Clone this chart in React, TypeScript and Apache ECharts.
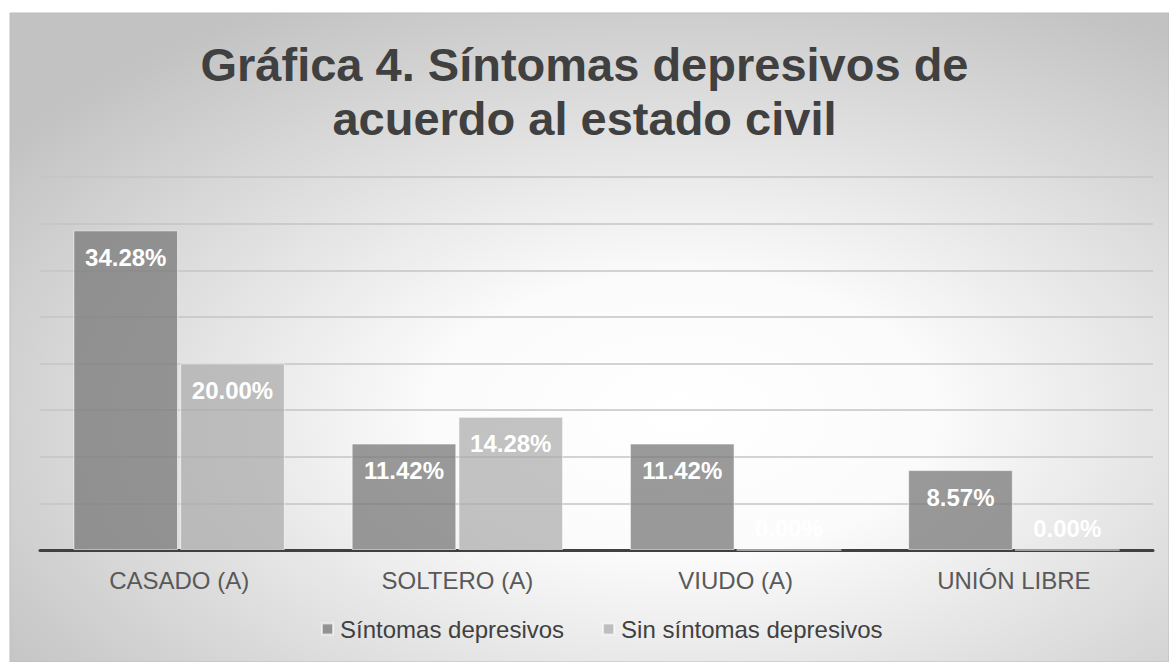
import React, { useEffect, useRef } from "react";
import * as echarts from "echarts";

const categories = ["CASADO (A)", "SOLTERO (A)", "VIUDO (A)", "UNIÓN LIBRE"];
const seriesNames = ["Síntomas depresivos", "Sin síntomas depresivos"];
const withSymptoms = [34.28, 11.42, 11.42, 8.57];
const withoutSymptoms = [20.0, 14.28, 0.0, 0.0];
const titleText = "Gráfica 4. Síntomas depresivos de\nacuerdo al estado civil";

const FONT = "'Liberation Sans', Arial, sans-serif";

function toData(values: number[]) {
  return values.map((v) =>
    v === 0
      ? { value: v, label: { position: "insideBottom", distance: 10 } }
      : { value: v }
  );
}

export default function App() {
  const ref = useRef<HTMLDivElement>(null);
  useEffect(() => {
    if (!ref.current) return;
    const chart = echarts.init(ref.current, null, { renderer: "svg" });
    const labelStyle = {
      show: true,
      position: "insideTop",
      distance: 15,
      color: "#ffffff",
      fontFamily: FONT,
      fontWeight: "bold",
      fontSize: 24,
      formatter: (p: any) => Number(p.value).toFixed(2) + "%",
    };
    chart.setOption({
      animation: false,
      backgroundColor: "#ffffff",
      graphic: [
        {
          type: "rect",
          z: -10,
          silent: true,
          shape: { x: 10, y: 13, width: 1159, height: 649 },
          style: {
            fill: new echarts.graphic.RadialGradient(0.58, 0.62, 0.72, [
              { offset: 0, color: "#ffffff" },
              { offset: 0.3, color: "#fbfbfb" },
              { offset: 1, color: "#c2c2c2" },
            ]),
            stroke: "#bdbdbd",
            lineWidth: 1,
          },
        },
      ],
      title: {
        text: titleText,
        left: "center",
        top: 32,
        padding: [5, 5, 5, 25],
        textStyle: {
          fontFamily: FONT,
          fontWeight: "bold",
          fontSize: 47,
          lineHeight: 54,
          color: "#404040",
        },
      },
      legend: {
        data: seriesNames,
        bottom: 16,
        left: 316,
        padding: 5,
        itemWidth: 11,
        itemHeight: 11,
        itemGap: 38,
        icon: "rect",
        textStyle: {
          fontFamily: FONT,
          fontSize: 24,
          color: "#404040",
          padding: [0, 0, 0, 2],
        },
      },
      grid: { left: 40, right: 16, top: 177, bottom: 112, containLabel: false },
      xAxis: {
        type: "category",
        data: categories,
        axisLine: { show: true, lineStyle: { color: "#404040", width: 3 } },
        axisTick: { show: false },
        axisLabel: {
          fontFamily: FONT,
          fontSize: 24,
          color: "#595959",
          margin: 18,
        },
      },
      yAxis: {
        type: "value",
        min: 0,
        max: 40,
        interval: 5,
        axisLabel: { show: false },
        axisLine: { show: false },
        axisTick: { show: false },
        splitLine: { lineStyle: { color: "#c4c4c4", width: 1.5 } },
      },
      series: [
        {
          name: seriesNames[0],
          type: "bar",
          data: toData(withSymptoms),
          barGap: "2%",
          barCategoryGap: "24%",
          itemStyle: {
            color: "rgba(120,120,120,0.75)",
            borderColor: "rgba(255,255,255,0.6)",
            borderWidth: 1,
          },
          label: labelStyle,
        },
        {
          name: seriesNames[1],
          type: "bar",
          data: toData(withoutSymptoms),
          itemStyle: {
            color: "rgba(170,170,170,0.7)",
            borderColor: "rgba(255,255,255,0.6)",
            borderWidth: 1,
          },
          label: labelStyle,
        },
      ],
    });
    return () => chart.dispose();
  }, []);
  return (
    <div
      ref={ref}
      style={{ position: "absolute", left: 0, top: 0, width: 1169, height: 662 }}
    />
  );
}
